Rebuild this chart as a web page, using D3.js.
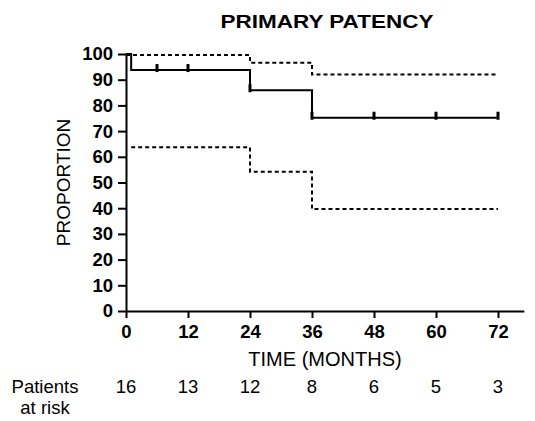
<!DOCTYPE html>
<html>
<head>
<meta charset="utf-8">
<script src="https://cdn.jsdelivr.net/npm/d3@7"></script>
<style>
    body { margin: 0; background: #fff; }
    text { font-family: "Liberation Sans", Arial, sans-serif; fill: #000; }
</style>
</head>
<body>
<div id="chart"></div>
<script>
// Data
const kmTimes = [0, 1, 24, 36];
const kmValues = [100, 93.75, 85.9, 75.2];
const upperTimes = [0, 24, 36];
const upperValues = [99.6, 96.6, 92.0];
const lowerTimes = [1, 24, 36];
const lowerValues = [63.7, 54.2, 39.7];
const endTime = 72;
const censorTimes = [6, 12, 24, 36, 48, 60, 72];
const xTicks = [0, 12, 24, 36, 48, 60, 72];
const yTicks = [0, 10, 20, 30, 40, 50, 60, 70, 80, 90, 100];
const atRisk = [16, 13, 12, 8, 6, 5, 3];

function draw() {
    const dimensions = {
        width: 535,
        height: 421,
        margin: { top: 54, bottom: 110, left: 126, right: 11 },
    };
    dimensions.ctrWidth = dimensions.width - dimensions.margin.left - dimensions.margin.right;
    dimensions.ctrHeight = dimensions.height - dimensions.margin.top - dimensions.margin.bottom;

    const svg = d3.select('#chart')
        .append('svg')
        .attr('width', dimensions.width)
        .attr('height', dimensions.height);

    const ctr = svg.append('g')
        .attr('transform', `translate(${dimensions.margin.left}, ${dimensions.margin.top})`);

    // Scales
    const xScale = d3.scaleLinear()
        .domain([0, 77])
        .range([0, 77 * 372 / 72]);

    const yScale = d3.scaleLinear()
        .domain([0, 100])
        .range([dimensions.ctrHeight, 0]);

    // step series helper
    const toSteps = (times, values) => {
        const pts = times.map((t, i) => ({ t, v: values[i] }));
        pts.push({ t: endTime, v: values[values.length - 1] });
        return pts;
    };

    const stepLine = d3.line()
        .x(d => xScale(d.t))
        .y(d => yScale(d.v))
        .curve(d3.curveStepAfter);

    // Confidence bands
    [toSteps(upperTimes, upperValues), toSteps(lowerTimes, lowerValues)].forEach(pts => {
        ctr.append('path')
            .attr('d', stepLine(pts))
            .attr('fill', 'none')
            .attr('stroke', '#000')
            .attr('stroke-width', 2)
            .attr('stroke-dasharray', '4,3');
    });

    // Survival curve
    const kmPts = toSteps(kmTimes, kmValues);
    ctr.append('path')
        .attr('d', stepLine(kmPts))
        .attr('fill', 'none')
        .attr('stroke', '#000')
        .attr('stroke-width', 2);

    const valueAt = t => {
        let v = kmValues[0];
        kmTimes.forEach((kt, i) => { if (kt <= t) v = kmValues[i]; });
        return v;
    };

    // Censor marks
    ctr.append('g')
        .selectAll('line')
        .data(censorTimes)
        .join('line')
        .attr('x1', d => xScale(d))
        .attr('x2', d => xScale(d))
        .attr('y1', d => yScale(valueAt(d)) - 6)
        .attr('y2', d => yScale(valueAt(d)) + 2)
        .attr('stroke', '#000')
        .attr('stroke-width', 3);

    // Axes
    const xAxis = d3.axisBottom(xScale)
        .tickValues(xTicks)
        .tickSize(7)
        .tickSizeOuter(0)
        .tickPadding(7);
    const yAxis = d3.axisLeft(yScale)
        .tickValues(yTicks)
        .tickSize(8)
        .tickSizeOuter(0)
        .tickPadding(5);

    const xAxisGroup = ctr.append('g')
        .attr('transform', `translate(0, ${dimensions.ctrHeight})`)
        .call(xAxis);
    const yAxisGroup = ctr.append('g')
        .call(yAxis);

    [xAxisGroup, yAxisGroup].forEach(g => {
        g.select('.domain').attr('stroke', '#000').attr('stroke-width', 2);
        g.selectAll('.tick line').attr('stroke', '#000').attr('stroke-width', 2);
        g.selectAll('.tick text')
            .attr('fill', '#000')
            .style('font-size', '18.5px')
            .style('font-weight', 'bold')
            .style('font-family', '"Liberation Sans", Arial, sans-serif');
    });

    // Title and labels
    svg.append('text')
        .attr('transform', 'translate(327, 28) scale(1.25, 1)')
        .attr('text-anchor', 'middle')
        .style('font-size', '18px')
        .style('font-weight', 'bold')
        .text('PRIMARY PATENCY');

    svg.append('text')
        .attr('transform', `translate(70, ${dimensions.margin.top + dimensions.ctrHeight / 2}) rotate(-90)`)
        .attr('text-anchor', 'middle')
        .style('font-size', '19px')
        .text('PROPORTION');

    svg.append('text')
        .attr('x', 325)
        .attr('y', 366)
        .attr('text-anchor', 'middle')
        .style('font-size', '20px')
        .text('TIME (MONTHS)');

    // Patients at risk
    svg.append('text')
        .attr('x', 45)
        .attr('y', 393)
        .attr('text-anchor', 'middle')
        .style('font-size', '18.5px')
        .text('Patients');
    svg.append('text')
        .attr('x', 45)
        .attr('y', 414)
        .attr('text-anchor', 'middle')
        .style('font-size', '18.5px')
        .text('at risk');

    svg.append('g')
        .selectAll('text')
        .data(atRisk)
        .join('text')
        .attr('x', (d, i) => dimensions.margin.left + xScale(xTicks[i]))
        .attr('y', 393)
        .attr('text-anchor', 'middle')
        .style('font-size', '18.5px')
        .text(d => d);
}

draw();
</script>
</body>
</html>
